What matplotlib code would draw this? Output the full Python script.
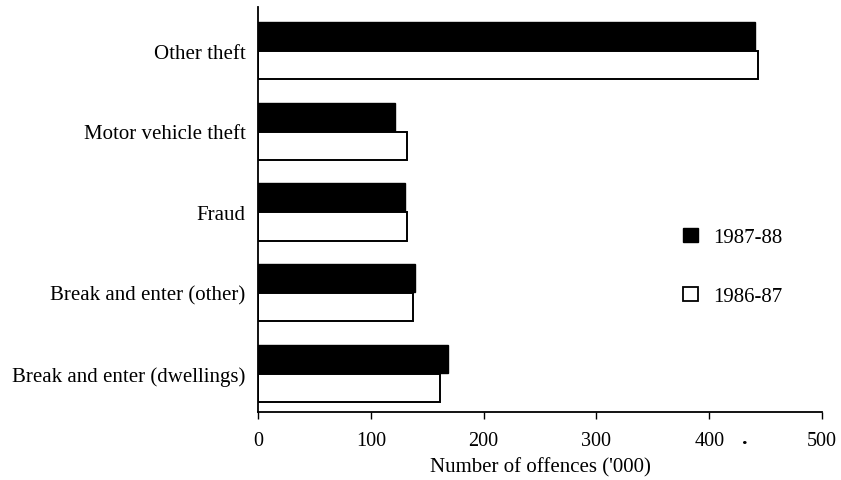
import matplotlib
matplotlib.use("Agg")
import matplotlib.pyplot as plt
from matplotlib.patches import Patch
import numpy as np

categories = [
    "Break and enter (dwellings)",
    "Break and enter (other)",
    "Fraud",
    "Motor vehicle theft",
    "Other theft",
]
offences_1987_88 = [168, 139, 130, 121, 441]
offences_1986_87 = [161, 137, 132, 132, 443]
series_labels = ["1987-88", "1986-87"]
x_ticks = [0, 100, 200, 300, 400, 500]

plt.rcParams["font.family"] = ["Liberation Serif", "DejaVu Serif"]
plt.rcParams["font.size"] = 15

fig = plt.figure(figsize=(8.41, 4.81), dpi=100)
ax = fig.add_axes([0.3068, 0.1414, 0.9774 - 0.3068, 0.9834 - 0.1414])

y = np.arange(len(categories))
bar_h = 0.35
off = 0.18
ax.barh(y + off, offences_1987_88, height=bar_h, color="black",
        edgecolor="black", linewidth=1.0)
ax.barh(y - off, offences_1986_87, height=bar_h, color="white",
        edgecolor="black", linewidth=1.4)

ax.set_xlim(0, 500)
ax.set_ylim(-0.48, 4.54)
ax.set_xticks(x_ticks)
ax.set_yticks(y)
ax.set_yticklabels(categories, fontsize=15)
ax.tick_params(axis="y", length=0, pad=9)
ax.tick_params(axis="x", length=5, width=1.0, direction="out", pad=9,
               labelsize=14.5)
for side in ("top", "right"):
    ax.spines[side].set_visible(False)
for side in ("left", "bottom"):
    ax.spines[side].set_linewidth(1.3)

ax.set_xlabel("Number of offences ('000)", labelpad=5, fontsize=15)

# stray dot printed beside the 400 label
ax.text(432, -0.86, ".", ha="center", va="baseline", fontsize=16,
        fontweight="bold", clip_on=False)

handles = [
    Patch(facecolor="black", edgecolor="black", linewidth=1.0),
    Patch(facecolor="white", edgecolor="black", linewidth=1.3),
]
fig.legend(handles, series_labels, loc="upper left",
           bbox_to_anchor=(0.7895, 0.5635), frameon=False,
           handlelength=0.75, handleheight=0.7, handletextpad=0.7,
           labelspacing=1.9, fontsize=15)

fig.savefig("out.png", dpi=100)
